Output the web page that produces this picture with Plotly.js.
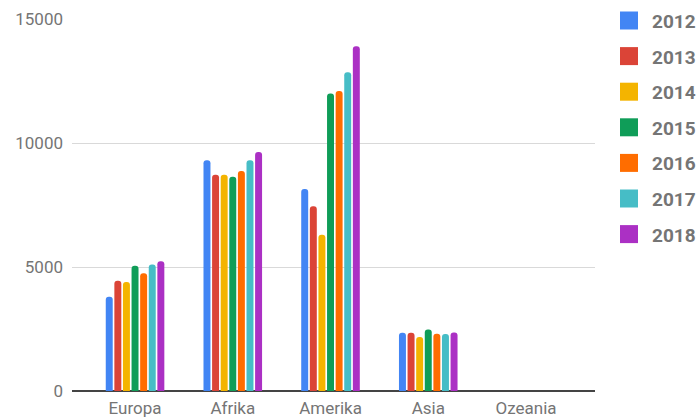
<!DOCTYPE html>
<html>
<head>
<meta charset="utf-8">
<script src="https://cdn.plot.ly/plotly-3.0.1.min.js"></script>
<style>
  html, body { margin: 0; padding: 0; background: #fff; }
  #chart { width: 699px; height: 419px; }
</style>
</head>
<body>
<div id="chart"></div>
<script>
const categories = ['Europa', 'Afrika', 'Amerika', 'Asia', 'Ozeania'];
const years = ['2012', '2013', '2014', '2015', '2016', '2017', '2018'];
const v2012 = [3800, 9300, 8150, 2350, 0];
const v2013 = [4450, 8720, 7450, 2350, 0];
const v2014 = [4400, 8720, 6300, 2180, 0];
const v2015 = [5050, 8640, 12000, 2480, 0];
const v2016 = [4750, 8870, 12100, 2310, 0];
const v2017 = [5100, 9300, 12850, 2300, 0];
const v2018 = [5230, 9640, 13900, 2360, 0];
const yTicks = [0, 5000, 10000, 15000];

const seriesValues = [v2012, v2013, v2014, v2015, v2016, v2017, v2018];
const colors = ['#4285F4', '#DB4437', '#F4B400', '#0F9D58', '#FF6D00', '#46BDC6', '#AB30C4'];

const W = 699, H = 419;
const M = { l: 72, r: 104, t: 19, b: 28 };
const plotW = W - M.l - M.r;
const plotH = H - M.t - M.b;
const px2x = px => (px - M.l) / plotW;
const py2y = py => (H - M.b - py) / plotH;

const traces = years.map((yr, i) => ({
  type: 'bar',
  name: yr,
  x: categories,
  y: seriesValues[i],
  marker: { color: colors[i] },
  showlegend: false,
  hoverinfo: 'x+y+name'
}));

// custom legend (large squares + bold labels), built from years/colors
const shapes = [];
const annotations = [];
const legTop = 20.5, legStep = 35.6, sq = 18, sqLeft = 620, textLeft = 650;
years.forEach((yr, i) => {
  const cy = legTop + legStep * i;
  shapes.push({
    type: 'rect', xref: 'paper', yref: 'paper',
    x0: px2x(sqLeft), x1: px2x(sqLeft + sq),
    y0: py2y(cy + sq / 2), y1: py2y(cy - sq / 2),
    fillcolor: colors[i], line: { width: 0 }, layer: 'above'
  });
  annotations.push({
    xref: 'paper', yref: 'paper',
    x: px2x(textLeft), y: py2y(cy + 1),
    xanchor: 'left', yanchor: 'middle',
    text: yr, showarrow: false,
    font: { family: 'Roboto, Arial, sans-serif', size: 19, color: '#757575', weight: 'bold' }
  });
});

const layout = {
  width: W,
  height: H,
  margin: { l: M.l, r: M.r, t: M.t, b: M.b, pad: 0 },
  paper_bgcolor: '#fff',
  plot_bgcolor: '#fff',
  font: { family: 'Roboto, Arial, sans-serif', color: '#757575', size: 17 },
  barmode: 'group',
  bargap: 0.384,
  bargroupgap: 0.19,
  barcornerradius: 4,
  showlegend: false,
  shapes: shapes,
  annotations: annotations,
  xaxis: {
    type: 'category',
    range: [-0.645, 4.706],
    showgrid: false,
    showline: false,
    zeroline: false,
    ticks: '',
    ticklabelstandoff: 5,
    tickfont: { size: 17, color: '#757575' },
    fixedrange: true
  },
  yaxis: {
    range: [0, 15000],
    tickvals: yTicks,
    ticktext: yTicks.map(String),
    showgrid: true,
    gridcolor: '#d9d9d9',
    gridwidth: 1,
    zeroline: true,
    zerolinecolor: '#444',
    zerolinewidth: 1.5,
    showline: false,
    ticks: '',
    ticklabelstandoff: 8,
    tickfont: { size: 17, color: '#757575' },
    fixedrange: true
  }
};

Plotly.newPlot('chart', traces, layout, { displayModeBar: false, staticPlot: true });
</script>
</body>
</html>
